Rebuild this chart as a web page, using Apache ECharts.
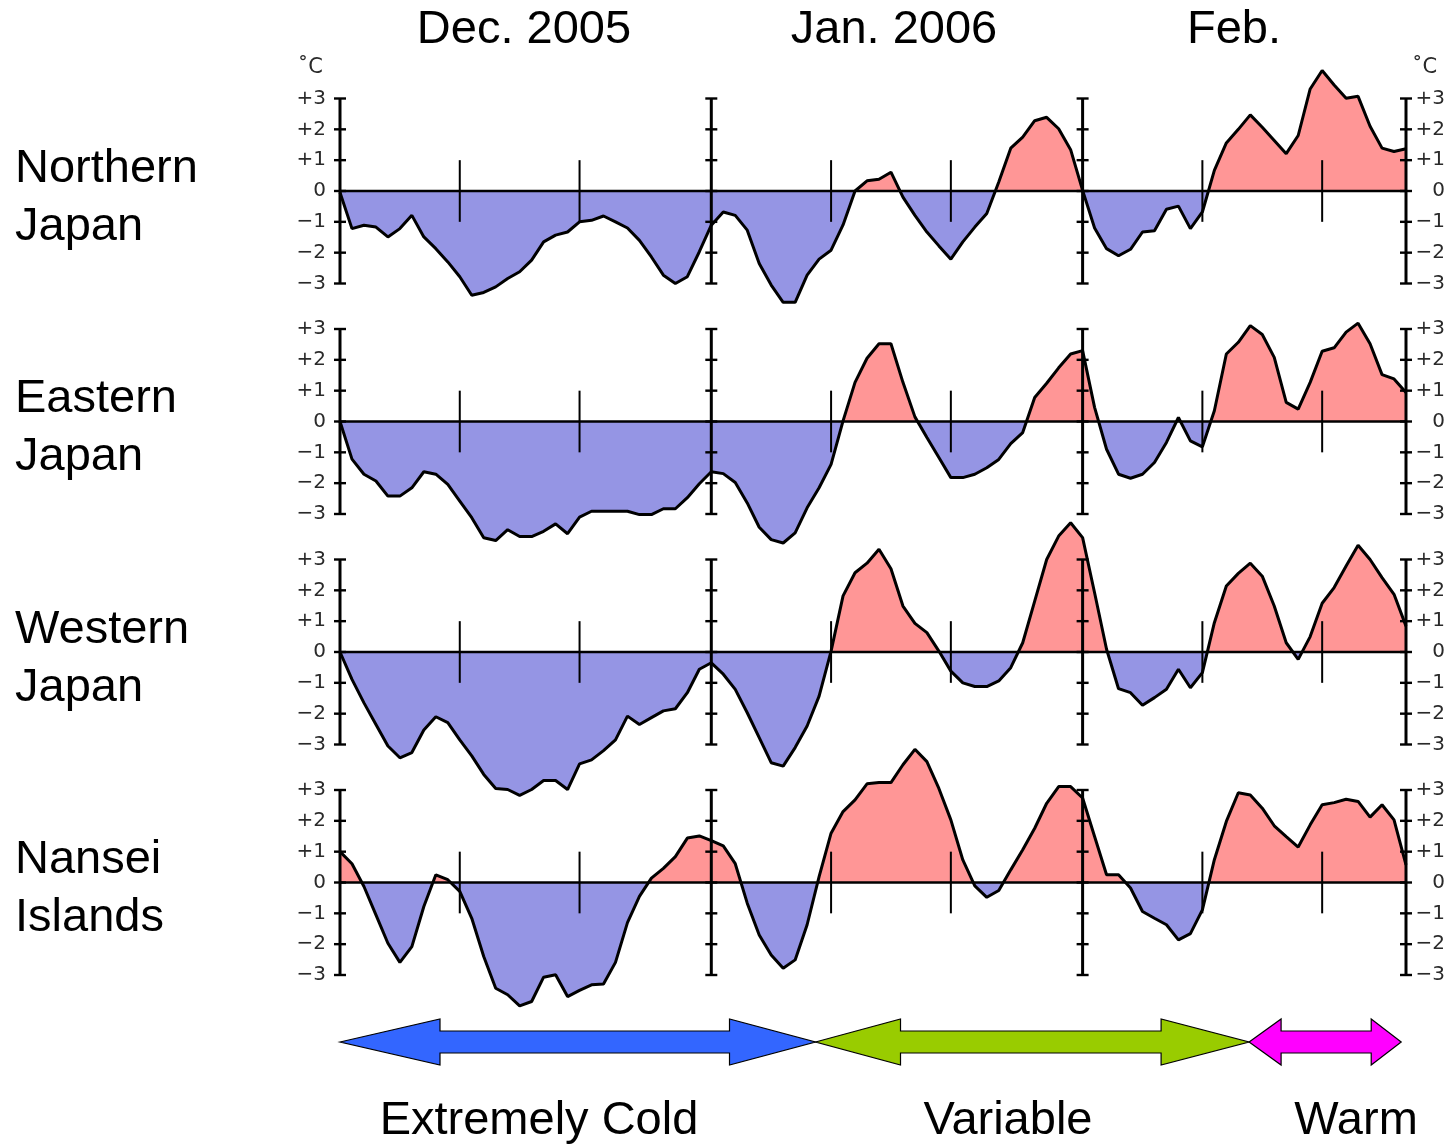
<!DOCTYPE html>
<html><head><meta charset="utf-8">
<script src="https://cdn.jsdelivr.net/npm/echarts@6.0.0/dist/echarts.min.js"></script>
<style>html,body{margin:0;padding:0;background:#fff}#c{width:1449px;height:1144px}#err{position:absolute;left:0;top:0;font:12px monospace;color:red;white-space:pre}</style>
</head><body><div id="c"></div><div id="err"></div>
<script>
// ---- data (daily temperature anomalies, Dec 1 2005 = day 0 ... Feb 28 2006 = day 89) ----
const regionLine1 = ['Northern', 'Eastern', 'Western', 'Nansei'];
const regionLine2 = ['Japan', 'Japan', 'Japan', 'Islands'];
const monthTitles = ['Dec. 2005', 'Jan. 2006', 'Feb.'];
const yTicks = [-3, -2, -1, 0, 1, 2, 3];
const majorDays = [0, 31, 62, 89];
const minorDays = [10, 20, 41, 51, 72, 82];
const periodNames = ['Extremely Cold', 'Variable', 'Warm'];
const periodBounds = [0, 39.7, 75.9, 88.6];

const northern = [-0.05,-1.22,-1.11,-1.17,-1.49,-1.22,-0.79,-1.49,-1.87,-2.30,
  -2.78,-3.38,-3.29,-3.11,-2.84,-2.62,-2.24,-1.65,-1.43,-1.33,
  -1.0,-0.95,-0.81,-1.0,-1.2,-1.6,-2.14,-2.73,-3.0,-2.78,
  -1.97,-1.11,-0.68,-0.79,-1.27,-2.35,-3.05,-3.61,-3.61,-2.73,
  -2.21,-1.92,-1.1,0.0,0.33,0.38,0.61,-0.2,-0.79,-1.33,
  -1.78,-2.21,-1.65,-1.17,-0.73,0.29,1.39,1.75,2.28,2.39,
  2.02,1.34,0.02,-1.2,-1.87,-2.1,-1.89,-1.33,-1.29,-0.59,
  -0.49,-1.22,-0.68,0.67,1.56,2.0,2.47,2.07,1.64,1.21,
  1.8,3.31,3.91,3.44,3.01,3.07,2.1,1.39,1.28,1.37];
const eastern = [0.0,-1.22,-1.71,-1.93,-2.42,-2.42,-2.15,-1.63,-1.71,-2.04,
  -2.58,-3.12,-3.77,-3.86,-3.51,-3.73,-3.73,-3.56,-3.32,-3.64,
  -3.1,-2.91,-2.91,-2.91,-2.91,-3.02,-3.02,-2.83,-2.83,-2.47,
  -2.02,-1.63,-1.69,-1.98,-2.64,-3.43,-3.83,-3.94,-3.61,-2.8,
  -2.15,-1.39,0.02,1.27,2.05,2.52,2.52,1.27,0.15,-0.52,
  -1.17,-1.82,-1.82,-1.71,-1.5,-1.23,-0.72,-0.36,0.78,1.24,
  1.74,2.19,2.3,0.46,-0.9,-1.71,-1.84,-1.71,-1.33,-0.68,
  0.13,-0.63,-0.82,0.35,2.19,2.57,3.11,2.82,2.08,0.62,
  0.4,1.27,2.28,2.39,2.9,3.19,2.52,1.52,1.38,0.94];
const western = [0.0,-0.89,-1.65,-2.35,-3.05,-3.43,-3.26,-2.53,-2.1,-2.29,
  -2.85,-3.37,-3.97,-4.43,-4.46,-4.65,-4.46,-4.17,-4.17,-4.46,
  -3.63,-3.5,-3.2,-2.85,-2.08,-2.35,-2.13,-1.91,-1.84,-1.32,
  -0.56,-0.35,-0.72,-1.21,-1.97,-2.78,-3.59,-3.7,-3.1,-2.4,
  -1.43,0.03,1.82,2.57,2.88,3.33,2.7,1.49,0.93,0.63,
  0.03,-0.62,-1.0,-1.12,-1.12,-0.94,-0.51,0.3,1.65,3.0,
  3.76,4.19,3.71,1.92,0.09,-1.19,-1.32,-1.73,-1.48,-1.21,
  -0.56,-1.16,-0.67,0.95,2.14,2.55,2.88,2.46,1.49,0.3,
  -0.24,0.5,1.58,2.09,2.79,3.46,3.0,2.41,1.87,0.84];
const nansei = [1.0,0.61,-0.13,-1.05,-1.97,-2.59,-2.08,-0.78,0.25,0.09,
  -0.29,-1.16,-2.4,-3.43,-3.64,-4.0,-3.86,-3.07,-2.99,-3.7,
  -3.5,-3.32,-3.29,-2.59,-1.3,-0.45,0.14,0.46,0.84,1.44,
  1.51,1.36,1.19,0.61,-0.67,-1.7,-2.35,-2.78,-2.51,-1.37,
  0.19,1.6,2.3,2.68,3.2,3.24,3.24,3.82,4.32,3.92,
  3.05,2.03,0.73,-0.11,-0.48,-0.26,0.41,1.06,1.76,2.57,
  3.11,3.11,2.74,1.49,0.25,0.25,-0.18,-0.94,-1.16,-1.37,
  -1.86,-1.66,-0.89,0.74,1.98,2.91,2.84,2.41,1.84,1.49,
  1.15,1.87,2.52,2.59,2.7,2.63,2.12,2.52,2.03,0.57];

const seriesValues = [northern, eastern, western, nansei];

// ---- styling ----
const RED = '#FF9696', BLUE = '#9595E4';
const TEXT_FONT = '"Liberation Sans", Arial, "Helvetica", sans-serif';
const AXIS_FONT = '"DejaVu Sans", Verdana, sans-serif';
const GRID_LEFT = 340, GRID_WIDTH = 1066, GRID_TOP0 = 98.5, GRID_STEP = 230.5, GRID_H = 185;

function fmt(v) { return v > 0 ? '+' + v : (v < 0 ? '\u2212' + (-v) : '0'); }

try {
const grids = [], xAxes = [], yAxes = [], series = [];
seriesValues.forEach((vals, i) => {
  grids.push({ left: GRID_LEFT, width: GRID_WIDTH, top: GRID_TOP0 + GRID_STEP * i, height: GRID_H });
  xAxes.push({ gridIndex: i, type: 'value', min: 0, max: 89, show: false });
  ['left', 'right'].forEach(pos => {
    yAxes.push({
      gridIndex: i, type: 'value', min: -3, max: 3, interval: 1, position: pos,
      axisLine: { show: false }, axisTick: { show: false }, splitLine: { show: false },
      axisLabel: { formatter: fmt, fontFamily: AXIS_FONT, fontSize: 20, color: '#2a2a2a',
        align: 'right', margin: pos === 'left' ? 14 : 39 }
    });
  });
});
seriesValues.forEach((vals, i) => {
  series.push({
    type: 'line', xAxisIndex: i, yAxisIndex: 2 * i,
    data: vals.map((v, d) => [d, v]),
    showSymbol: false, symbol: 'none', clip: false, silent: true,
    lineStyle: { color: '#000', width: 3 },
    areaStyle: { opacity: 1, color: RED }, z: 2
  });
});
const structData = majorDays.map(d => [d, 1]).concat(minorDays.map(d => [d, 2])).concat([[0, 0]]);
seriesValues.forEach((vals, i) => {
  series.push({
    type: 'custom', xAxisIndex: i, yAxisIndex: 2 * i, silent: true, z: 5,
    data: structData,
    renderItem: function (params, api) {
      const d = api.value(0), k = api.value(1);
      const ln = (x1, y1, x2, y2, w) => ({ type: 'line', shape: { x1: x1, y1: y1, x2: x2, y2: y2 }, style: { stroke: '#000', lineWidth: w } });
      if (k === 0) {
        const a = api.coord([0, 0]), b = api.coord([89, 0]);
        return ln(a[0], a[1], b[0], b[1], 2.5);
      }
      if (k === 2) {
        const a = api.coord([d, 1]), b = api.coord([d, -1]);
        return ln(a[0], a[1], b[0], b[1], 2);
      }
      const top = api.coord([d, 3]), bot = api.coord([d, -3]);
      const children = [ln(top[0], top[1], bot[0], bot[1], 3)];
      yTicks.forEach(v => {
        const p = api.coord([d, v]);
        children.push(ln(p[0] - 6, p[1], p[0] + 6, p[1], 2.4));
      });
      return { type: 'group', children: children };
    }
  });
});

const option = {
  animation: false,
  backgroundColor: '#fff',
  grid: grids, xAxis: xAxes, yAxis: yAxes,
  series: series
};

const chart = echarts.init(document.getElementById('c'), null, { renderer: 'canvas' });
chart.setOption(option);

// two-colour fill split at each panel's zero line
const areaUpdates = seriesValues.map((vals, i) => {
  const zy = chart.convertToPixel({ yAxisIndex: 2 * i }, 0);
  return { areaStyle: { opacity: 1, color: new echarts.graphic.LinearGradient(0, zy - 50, 0, zy + 50,
    [{ offset: 0, color: RED }, { offset: 0.5, color: RED }, { offset: 0.5, color: BLUE }, { offset: 1, color: BLUE }], true) } };
});

// ---- annotations ----
const px = d => chart.convertToPixel({ xAxisIndex: 3 }, d);
const graphic = [];
const txt = (text, x, y, align, font, fill) => ({
  type: 'text', silent: true,
  style: { text: text, x: x, y: y, align: align, verticalAlign: 'middle', font: font, fill: fill || '#000' }
});
regionLine1.forEach((t, i) => {
  graphic.push(txt(t, 15, 169 + 230.3 * i, 'left', '47px ' + TEXT_FONT));
  graphic.push(txt(regionLine2[i], 15, 227 + 230.3 * i, 'left', '47px ' + TEXT_FONT));
});
const titleX = [524, 894, 1234];
monthTitles.forEach((t, i) => graphic.push(txt(t, titleX[i], 30, 'center', '47px ' + TEXT_FONT)));
graphic.push(txt('\u02DAC', 323, 68, 'right', '21px ' + AXIS_FONT, '#2a2a2a'));
graphic.push(txt('\u02DAC', 1412, 68, 'left', '21px ' + AXIS_FONT, '#2a2a2a'));

const arrowColors = ['#3366FF', '#99CC00', '#FF00FF'];
const heads = [[100, 86], [85, 88], [32, 30]];
const midY = 1042, headH = 23, bodyH = 11;
periodNames.forEach((name, i) => {
  const L = px(periodBounds[i]), R = px(periodBounds[i + 1]);
  const hl = heads[i][0], hr = heads[i][1];
  graphic.push({
    type: 'polygon', silent: true,
    shape: { points: [[L, midY], [L + hl, midY - headH], [L + hl, midY - bodyH], [R - hr, midY - bodyH], [R - hr, midY - headH], [R, midY],
      [R - hr, midY + headH], [R - hr, midY + bodyH], [L + hl, midY + bodyH], [L + hl, midY + headH]] },
    style: { fill: arrowColors[i], stroke: '#000', lineWidth: 1.2 }
  });
});
const labelX = [539, 1008, 1356];
periodNames.forEach((t, i) => graphic.push(txt(t, labelX[i], 1121, 'center', '47px ' + TEXT_FONT)));

chart.setOption({ graphic: graphic, series: areaUpdates.concat(seriesValues.map(() => ({}))) });
} catch (e) { document.getElementById('err').textContent = String(e && e.stack || e); }
</script>
</body></html>
